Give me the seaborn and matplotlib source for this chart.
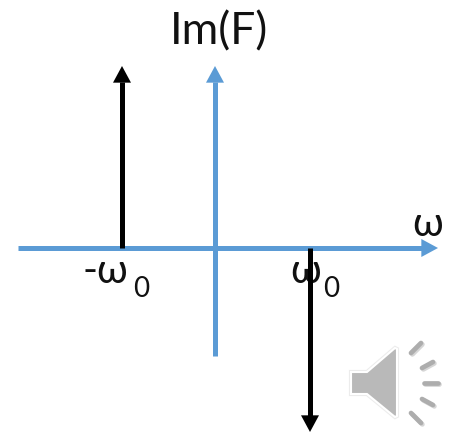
import matplotlib
matplotlib.use("Agg")
import matplotlib.pyplot as plt
import matplotlib.patheffects as pe
import pandas as pd
import seaborn as sns

# impulses of Im(F) (same units as the axes)
impulse_x = [-93, 95]
impulse_y = [182, -184]
horiz_axis = [-197, 223]
vert_axis = [-108, 182]
axis_head = 16

# speaker icon outline and rays, in image pixels
spk_x = [351, 367, 395, 397, 397, 395, 367, 351]
spk_y = [372, 372, 348, 349, 416, 417, 394, 394]
ray_x = [(411, 421), (422, 433), (424, 438), (422, 433), (411, 421)]
ray_y = [(353, 343), (368, 362), (383, 383), (399, 405), (413, 423)]

BLUE = "#5b9bd5"
FONT = ["Lato", "DejaVu Sans"]


def px(x, y):
    # image pixels to axes units
    return [v - 215 for v in x], [248 - v for v in y]


def arrow_head(ax, start, end, color):
    ax.annotate("", xy=end, xytext=start,
                arrowprops=dict(arrowstyle="-|>,head_length=1.0,head_width=0.54",
                                mutation_scale=12, color=color, lw=0,
                                shrinkA=0, shrinkB=0))


def stem(ax, x, y, color):
    d = pd.DataFrame({"x": x, "y": y})
    sns.lineplot(data=d, x="x", y="y", color=color, lw=3.6, ax=ax, estimator=None,
                 sort=False, solid_capstyle="butt", zorder=2)


sns.set_style("white")
plt.rcParams["font.family"] = FONT

fig = plt.figure(figsize=(4.53, 4.32), dpi=100)
ax = fig.add_axes([0, 0, 1, 1])

stem(ax, [horiz_axis[0], horiz_axis[1] - axis_head], [0, 0], BLUE)
stem(ax, [0, 0], [vert_axis[0], vert_axis[1] - axis_head], BLUE)
arrow_head(ax, (horiz_axis[1] - axis_head, 0), (horiz_axis[1], 0), BLUE)
arrow_head(ax, (0, vert_axis[1] - axis_head), (0, vert_axis[1]), BLUE)

for xi, yi in zip(impulse_x, impulse_y):
    sign = 1 if yi > 0 else -1
    stem(ax, [xi, xi], [0, yi - sign * axis_head], "black")
    arrow_head(ax, (xi, yi - sign * axis_head), (xi, yi), "black")

# labels
ax.text(4, 216, "Im(F)", fontsize=32, ha="center", va="center", color="#111111")
ax.text(213, 24, "ω", fontsize=29, ha="center", va="center", color="#111111")
ax.text(-87, -35, "-ω", fontsize=29, ha="right", va="baseline", color="#111111", zorder=1)
ax.text(-74, -49, "0", fontsize=20, ha="center", va="baseline", color="#111111")
ax.text(91, -35, "ω", fontsize=29, ha="center", va="baseline", color="#111111", zorder=1)
ax.text(116, -49, "0", fontsize=20, ha="center", va="baseline", color="#111111")

# speaker icon
sx, sy = px(spk_x, spk_y)
shadow = [pe.SimpleLineShadow(offset=(1, -1), shadow_color="#999999", alpha=0.4), pe.Normal()]
ax.fill(sx, sy, color="#b9b9b9", lw=1.5, ec="white",
        path_effects=[pe.withStroke(linewidth=3, foreground="#ececec")])
for rx, ry in zip(ray_x, ray_y):
    qx, qy = px(rx, ry)
    ax.plot(qx, qy, color="#adadad", lw=3.4, solid_capstyle="round", path_effects=shadow)

ax.set_xlim(-215, 238)
ax.set_ylim(-184, 248)
ax.axis("off")
fig.savefig("out.png", dpi=100)
